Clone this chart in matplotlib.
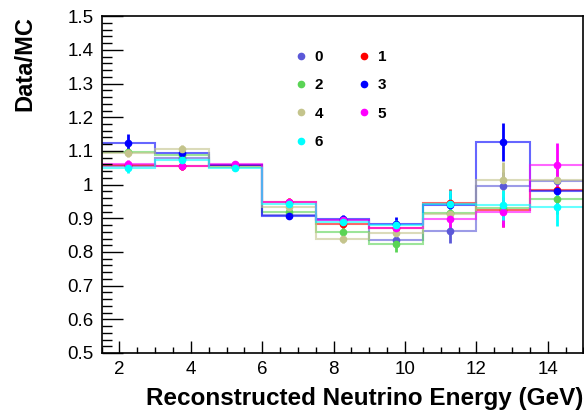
import matplotlib
matplotlib.use('Agg')
import matplotlib.pyplot as plt
from matplotlib.lines import Line2D
from matplotlib.ticker import MultipleLocator

plt.rcParams['font.family'] = ['Liberation Sans', 'DejaVu Sans']

# energy bins (GeV)
edges = [1.5, 3.0, 4.5, 6.0, 7.5, 9.0, 10.5, 12.0, 13.5, 15.0]
centers = [2.25, 3.75, 5.25, 6.75, 8.25, 9.75, 11.25, 12.75, 14.25]

labels = ['0', '1', '2', '3', '4', '5', '6']

ratio0 = [1.055, 1.078, 1.058, 0.909, 0.895, 0.835, 0.862, 0.997, 1.012]
ratio1 = [1.058, 1.054, 1.057, 0.949, 0.883, 0.872, 0.944, 0.925, 0.984]
ratio2 = [1.097, 1.088, 1.051, 0.919, 0.858, 0.825, 0.915, 0.932, 0.957]
ratio3 = [1.124, 1.094, 1.058, 0.907, 0.898, 0.883, 0.939, 1.126, 0.982]
ratio4 = [1.093, 1.105, 1.052, 0.935, 0.840, 0.855, 0.912, 1.013, 1.015]
ratio5 = [1.061, 1.055, 1.062, 0.947, 0.896, 0.870, 0.898, 0.919, 1.058]
ratio6 = [1.048, 1.073, 1.050, 0.941, 0.890, 0.880, 0.941, 0.939, 0.934]

err0 = [0.012, 0.012, 0.008, 0.010, 0.012, 0.016, 0.035, 0.040, 0.045]
err1 = [0.012, 0.012, 0.008, 0.012, 0.012, 0.016, 0.042, 0.052, 0.050]
err2 = [0.012, 0.012, 0.008, 0.010, 0.012, 0.025, 0.035, 0.045, 0.045]
err3 = [0.025, 0.015, 0.008, 0.010, 0.012, 0.020, 0.035, 0.057, 0.045]
err4 = [0.012, 0.014, 0.008, 0.010, 0.012, 0.016, 0.035, 0.055, 0.045]
err5 = [0.012, 0.012, 0.008, 0.010, 0.012, 0.016, 0.035, 0.045, 0.066]
err6 = [0.012, 0.012, 0.008, 0.010, 0.012, 0.016, 0.043, 0.045, 0.057]

colors = ['#5b58d8', '#ff0000', '#5ad455', '#0000ff', '#c4c48c', '#ff00ff', '#00ffff']

ratios = [ratio0, ratio1, ratio2, ratio3, ratio4, ratio5, ratio6]
errs = [err0, err1, err2, err3, err4, err5, err6]

fig = plt.figure(figsize=(5.84, 4.17), dpi=100)
ax = fig.add_axes([0.174, 0.1535, 0.825, 0.8075])

for r, c in zip(ratios, colors):
    ax.stairs(r, edges, baseline=None, color=c, lw=1.5, alpha=0.6)
for r, e, c in zip(ratios, errs, colors):
    ax.errorbar(centers, r, yerr=e, fmt='o', color=c, ms=4.5, elinewidth=2, capsize=0)

ax.set_xlim(1.5, 15)
ax.set_ylim(0.5, 1.5)
ax.xaxis.set_major_locator(MultipleLocator(2))
ax.xaxis.set_minor_locator(MultipleLocator(0.5))
ax.yaxis.set_minor_locator(MultipleLocator(0.02))
ax.set_yticks([0.5, 0.6, 0.7, 0.8, 0.9, 1.0, 1.1, 1.2, 1.3, 1.4, 1.5])
ax.set_yticklabels(['0.5', '0.6', '0.7', '0.8', '0.9', '1', '1.1', '1.2', '1.3', '1.4', '1.5'])
ax.tick_params(axis='both', which='both', direction='in', labelsize=13.5)
ax.tick_params(axis='x', which='major', length=9, width=1, pad=6)
ax.tick_params(axis='x', which='minor', length=4.5, width=1)
ax.tick_params(axis='y', which='major', length=15, width=1, pad=6)
ax.tick_params(axis='y', which='minor', length=7.5, width=1)
for s in ax.spines.values():
    s.set_linewidth(1.2)

ax.set_xlabel('Reconstructed Neutrino Energy (GeV)', fontsize=17.5, fontweight='bold', loc='right')
ax.set_ylabel('Data/MC', fontsize=17, fontweight='bold', loc='top')
ax.xaxis.set_label_coords(1.0, -0.1)
ax.yaxis.set_label_coords(-0.135, 1.0)

# legend filled row by row: 0 1 / 2 3 / 4 5 / 6
handles = [Line2D([], [], ls='none', marker='o', ms=4.5, color=c) for c in colors]
order = [0, 2, 4, 6, 1, 3, 5]
ax.legend([handles[i] for i in order], [labels[i] for i in order], ncol=2,
          loc='upper left', bbox_to_anchor=(0.397, 0.899), frameon=False,
          borderpad=0, borderaxespad=0, handlelength=1.0, handletextpad=0.4,
          columnspacing=2.2, labelspacing=0.93,
          prop={'weight': 'bold', 'size': 11})

fig.savefig('out.png', dpi=100)
